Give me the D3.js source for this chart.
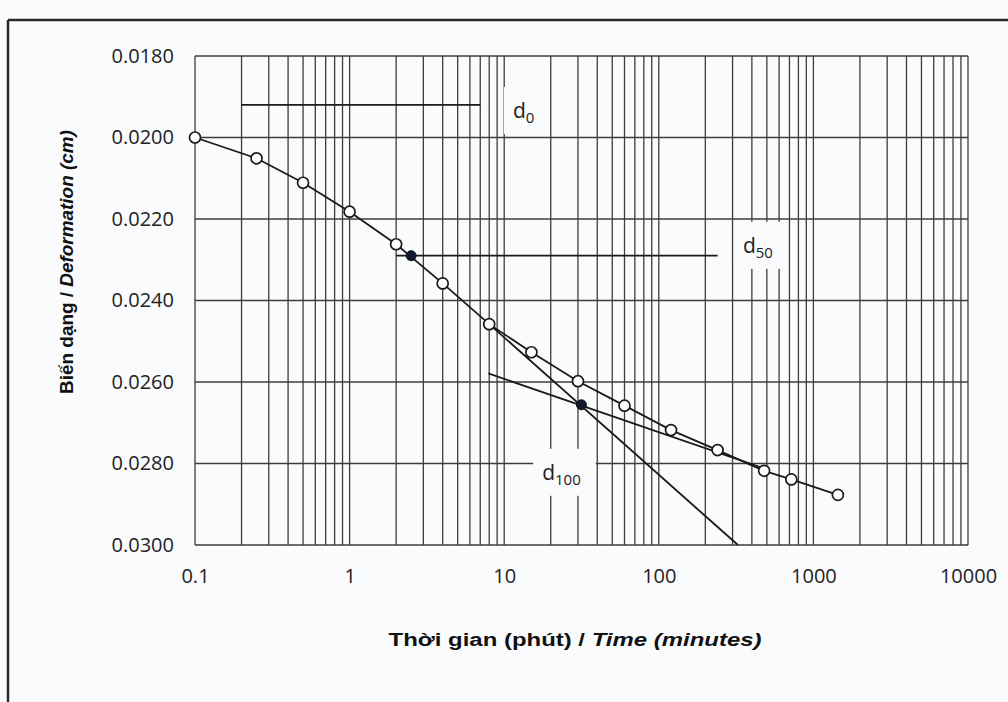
<!DOCTYPE html>
<html><head><meta charset="utf-8">
<script src="https://cdn.jsdelivr.net/npm/d3@7"></script>
<style>body{margin:0;background:#fafbfd;}svg{display:block;}</style>
</head><body>
<svg id="c" width="1008" height="702"></svg>
<script>
// ---- data ----
const times   = [0.1, 0.25, 0.5, 1, 2, 4, 8, 15, 30, 60, 120, 240, 480, 720, 1440];
const deform  = [0.0200, 0.02051, 0.02111, 0.02182, 0.02262, 0.02358, 0.02458, 0.02527, 0.02598, 0.02658, 0.02718, 0.02767, 0.02818, 0.02839, 0.02877];
const xTickValues = [0.1, 1, 10, 100, 1000, 10000];
const xTickLabels = ["0.1", "1", "10", "100", "1000", "10000"];
const yTickValues = [0.018, 0.020, 0.022, 0.024, 0.026, 0.028, 0.030];
const yTickLabels = ["0.0180", "0.0200", "0.0220", "0.0240", "0.0260", "0.0280", "0.0300"];
const d0Line   = [[0.2, 0.0192], [7, 0.0192]];
const d50Line  = [[2, 0.0229], [240, 0.0229]];
const tangentPrimary   = [[8, 0.02458], [325, 0.0300]];
const tangentSecondary = [[7.9, 0.02579], [480, 0.02812]];
const markedPoints = [[2.5, 0.0229], [31.6, 0.02656]];
const annotations = [
  {main: "d", sub: "0",   t: 11.4, d: 0.01952},
  {main: "d", sub: "50",  t: 350,  d: 0.02283},
  {main: "d", sub: "100", t: 17.6, d: 0.0284}
];
const xTitle = ["Thời gian (phút) / ", "Time (minutes)"];
const yTitle = ["Biến dạng / ", "Deformation (cm)"];

// ---- drawing ----
const svg = d3.select("#c");
const x = d3.scaleLog().domain([0.1, 10000]).range([195, 968]);
const y = d3.scaleLinear().domain([0.018, 0.030]).range([56, 545]);

// outer frame (scan border)
svg.append("line").attr("x1", 8).attr("x2", 1008).attr("y1", 20).attr("y2", 20)
  .attr("stroke", "#2a2a2a").attr("stroke-width", 2.5);
svg.append("line").attr("x1", 8).attr("x2", 8).attr("y1", 20).attr("y2", 702)
  .attr("stroke", "#2a2a2a").attr("stroke-width", 2.5);

const grid = svg.append("g");
grid.selectAll("line.v").data(x.ticks()).join("line")
  .attr("x1", d => x(d)).attr("x2", d => x(d))
  .attr("y1", y(0.018)).attr("y2", y(0.030))
  .attr("stroke", "#3c3c3c").attr("stroke-width", 1.3);
grid.selectAll("line.h").data(yTickValues).join("line")
  .attr("x1", x(0.1)).attr("x2", x(10000))
  .attr("y1", d => y(d)).attr("y2", d => y(d))
  .attr("stroke", "#3c3c3c").attr("stroke-width", 1.3);

// axes labels
const xAxis = d3.axisBottom(x).tickValues(xTickValues).tickSize(0).tickPadding(0)
  .tickFormat((d, i) => xTickLabels[i]);
const gx = svg.append("g").attr("transform", `translate(0,${y(0.030) + 24})`).call(xAxis);
gx.select(".domain").remove();
gx.selectAll("text").attr("font-family", "Open Sans").attr("font-size", 20).attr("fill", "#222");

const yAxis = d3.axisLeft(y).tickValues(yTickValues).tickSize(0).tickPadding(0)
  .tickFormat((d, i) => yTickLabels[i]);
const gy = svg.append("g").attr("transform", `translate(${x(0.1) - 21},0)`).call(yAxis);
gy.select(".domain").remove();
gy.selectAll("text").attr("font-family", "Open Sans").attr("font-size", 20).attr("fill", "#222");

// annotation labels with white boxes
const ann = svg.append("g");
annotations.forEach(a => {
  const g = ann.append("g");
  const rect = g.append("rect").attr("fill", "#fafbfd");
  const t = g.append("text").attr("x", x(a.t)).attr("y", y(a.d))
    .attr("font-family", "Open Sans").attr("font-size", 21).attr("fill", "#222");
  t.append("tspan").text(a.main);
  t.append("tspan").attr("font-size", 15).attr("dy", 5).text(a.sub);
  const b = t.node().getBBox();
  rect.attr("x", b.x - 9).attr("y", b.y - 9).attr("width", b.width + 24).attr("height", b.height + 16);
});

// lines
const line = d3.line().x(d => x(d[0])).y(d => y(d[1]));
const lines = svg.append("g").attr("fill", "none").attr("stroke", "#1a1a1a").attr("stroke-width", 1.8);
[d0Line, d50Line, tangentPrimary, tangentSecondary].forEach(l => lines.append("path").attr("d", line(l)));
lines.append("path").attr("d", line(times.map((t, i) => [t, deform[i]])));

// markers
svg.append("g").selectAll("circle").data(times).join("circle")
  .attr("cx", d => x(d)).attr("cy", (d, i) => y(deform[i])).attr("r", 5.5)
  .attr("fill", "#fff").attr("stroke", "#1a1a1a").attr("stroke-width", 1.7);
svg.append("g").selectAll("circle").data(markedPoints).join("circle")
  .attr("cx", d => x(d[0])).attr("cy", d => y(d[1])).attr("r", 5)
  .attr("fill", "#111a33").attr("stroke", "#111").attr("stroke-width", 1);

// axis titles
const xt = svg.append("text").attr("text-anchor", "middle")
  .attr("font-family", "Liberation Sans, Arial").attr("font-weight", "bold").attr("font-size", 19).attr("fill", "#111");
xt.append("tspan").text(xTitle[0]);
xt.append("tspan").attr("font-style", "italic").text(xTitle[1]);
let L = xt.node().getComputedTextLength();
xt.attr("transform", `translate(575,646) scale(${373 / L},1)`);

const yt = svg.append("text").attr("text-anchor", "middle")
  .attr("font-family", "Liberation Sans, Arial").attr("font-weight", "bold").attr("font-size", 19).attr("fill", "#111");
yt.append("tspan").text(yTitle[0]);
yt.append("tspan").attr("font-style", "italic").text(yTitle[1]);
L = yt.node().getComputedTextLength();
yt.attr("transform", `translate(73,262) rotate(-90) scale(${264 / L},1)`);
</script>
</body></html>
